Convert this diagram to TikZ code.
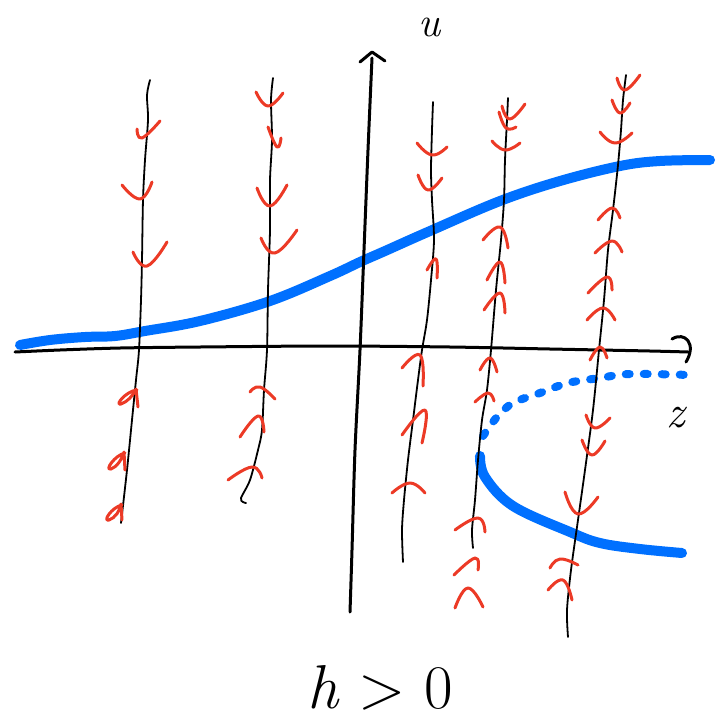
\documentclass[tikz,border=0pt]{standalone}
\usepackage{tikz}
\definecolor{skblue}{RGB}{0,112,255}
\definecolor{skred}{RGB}{236,58,38}
\tikzset{
  blk/.style={black,line width=1.8pt,line cap=round,line join=round},
  axisln/.style={black,line width=3pt,line cap=round,line join=round},
  bluecurve/.style={skblue,line width=10pt,line cap=round,line join=round},
  bluedots/.style={skblue,line width=8pt,line cap=round,dash pattern=on 4pt off 14pt},
  rm/.style={skred,line width=3pt,line cap=round,line join=round},
  lbl/.style={inner sep=0pt,font=\fontsize{46}{50}\selectfont\itshape}
}
\newcommand\mk[3]{\draw[rm] plot[smooth,tension=.8] coordinates {(#1) (#2) (#3)};}
\begin{document}
\begin{tikzpicture}[x=1pt,y=-1pt]
\useasboundingbox (0,0) rectangle (725,723);
% blue curves
\draw[bluecurve] plot[smooth,tension=.6] coordinates {(20,345) (50,340) (85,337) (115,336) (145,331) (200,321) (270,301) (330,276) (360,262) (385,251) (430,231) (500,201) (560,181) (620,166) (660,161) (710,160)};
\draw[bluedots] plot[smooth,tension=.6] coordinates {(483,436) (497,417) (513,403) (540,393) (568,383) (600,378) (630,374) (690,375)};
\draw[bluecurve] plot[smooth,tension=.6] coordinates {(480,456) (485,477) (513,506) (570,532) (600,543) (640,549) (682,553)};
% horizontal axis
\draw[axisln] plot[smooth] coordinates {(15,352) (60,350) (120,348) (200,347) (330,346) (450,347) (550,349) (650,351) (688,352)};
\draw[axisln] (672,339) .. controls (685,331) and (697,344) .. (686,362);
% vertical axis
\draw[axisln] plot[smooth] coordinates {(350,612) (352,550) (355,450) (360,350) (364,250) (368,150) (372,58)};
\draw[axisln] (360,62) -- (372,52) -- (385,61);
% thin lines
\draw[blk] plot[smooth] coordinates {(150,80) (147,95) (148,120) (145,160) (143,200) (142,260) (141,300) (139,350) (136,380) (132,420) (127,470) (121,523)};
\draw[blk] plot[smooth] coordinates {(273,78) (271,100) (272,140) (270,180) (270,230) (268,290) (267,350) (264,390) (262,430) (258,450) (250,480) (241,498) (243,502) (246,503)};
\draw[blk] plot[smooth] coordinates {(433,102) (432,130) (431,170) (432,200) (434,240) (431,280) (427,320) (422,350) (418,380) (413,420) (408,460) (404,500) (402,530) (403,562)};
\draw[blk] plot[smooth] coordinates {(508,98) (507,120) (505,160) (504,200) (501,240) (496,290) (491,350) (487,390) (482,420) (478,460) (475,500) (472,530) (473,548)};
\draw[blk] plot[smooth] coordinates {(626,75) (623,100) (621,130) (618,165) (613,210) (608,250) (604,300) (599,350) (593,410) (585,470) (578,520) (571,570) (567,610) (568,637)};
% red marks: line A
\mk{137,129}{142,138}{160,121}
\mk{122,185}{140,199}{152,182}
\mk{133,252}{147,266}{167,242}
\draw[rm] (137,390) .. controls (126,391) and (114,406) .. (121,404) .. controls (127,402) and (133,396) .. (136,389) -- (138,407);
\draw[rm] (125,453) .. controls (115,455) and (104,471) .. (111,469) .. controls (117,467) and (122,459) .. (124,452) -- (125,470);
\draw[rm] (122,505) .. controls (112,507) and (102,522) .. (109,520) .. controls (115,518) and (120,511) .. (121,504) -- (122,520);
% line B
\mk{256,92}{268,106}{283,93}
\mk{268,127}{277,147}{281,138}
\mk{257,188}{270,206}{287,185}
\mk{261,238}{275,253}{297,230}
\mk{250,392}{260,387}{275,399}
\mk{240,437}{258,416}{264,432}
\mk{228,480}{252,467}{262,478}
% line C
\mk{417,143}{432,155}{447,147}
\mk{418,175}{428,190}{442,178}
\mk{427,270}{436,259}{437,278}
\mk{402,368}{420,355}{423,386}
\mk{402,435}{425,410}{422,443}
\mk{392,493}{410,483}{425,493}
% line D
\mk{502,106}{510,119}{525,104}
\mk{499,112}{506,128}{516,127}
\mk{492,141}{505,150}{520,143}
\mk{483,240}{500,227}{508,248}
\mk{487,280}{500,262}{505,283}
\mk{484,310}{500,293}{505,313}
\mk{480,370}{490,358}{497,372}
\mk{475,402}{488,393}{494,401}
\mk{455,530}{478,518}{485,532}
\mk{454,575}{475,558}{478,570}
\mk{455,608}{468,588}{483,607}
% line E
\mk{617,78}{625,90}{640,75}
\mk{612,100}{620,113}{630,103}
\mk{600,132}{615,143}{632,133}
\mk{598,220}{612,208}{620,218}
\mk{595,253}{612,241}{622,252}
\mk{588,293}{607,277}{612,290}
\mk{587,320}{603,308}{615,320}
\mk{590,360}{600,347}{607,358}
\mk{586,415}{595,428}{610,418}
\mk{582,440}{592,455}{605,441}
\mk{565,492}{578,514}{598,497}
\mk{550,568}{560,559}{578,565}
\mk{548,590}{563,580}{572,600}
% labels
\node[lbl,font=\fontsize{42}{46}\selectfont\itshape] (ulabel) at (430,27) {u};
\node[lbl] (zlabel) at (676,418) {z};
\node[lbl,font=\fontsize{62}{66}\selectfont] (hlabel) at (380,688) {\textit{h} > 0};
\end{tikzpicture}
\end{document}
